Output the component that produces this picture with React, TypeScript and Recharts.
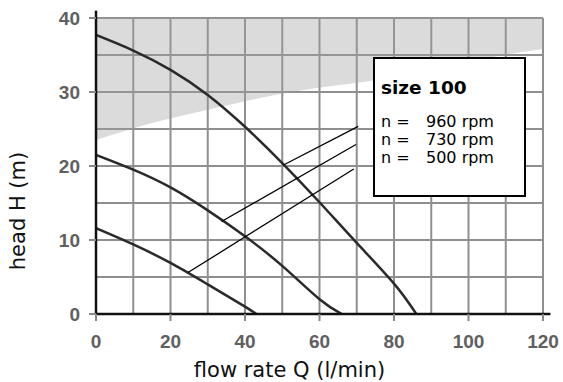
import React from 'react';
import { ComposedChart, Line, Area, XAxis, YAxis, CartesianGrid, ReferenceLine, Label } from 'recharts';

// pump curves
const q960 = [0, 10, 20, 30, 40, 50, 60, 70, 80, 86];
const h960 = [37.7, 35.6, 33.0, 29.6, 25.3, 20.4, 15.1, 9.6, 4.1, 0];
const q730 = [0, 10, 20, 30, 40, 50, 60, 66];
const h730 = [21.5, 19.5, 17.1, 14.0, 10.5, 6.5, 2.0, 0];
const q500 = [0, 10, 20, 30, 40, 43];
const h500 = [11.6, 9.4, 6.9, 4.0, 1.0, 0];

// grey zone (not allowed range), lower edge
const qShade = [0, 15, 30, 45, 60, 75, 90, 105, 120];
const hShadeLow = [23.5, 25.8, 27.6, 29.3, 30.6, 31.6, 33.0, 34.6, 35.8];

const xTicks = [0, 20, 40, 60, 80, 100, 120];
const yTicks = [0, 10, 20, 30, 40];
const xGrid = [10, 20, 30, 40, 50, 60, 70, 80, 90, 100, 110, 120];
const yGrid = [5, 10, 15, 20, 25, 30, 35, 40];

const speeds = [960, 730, 500];
const sizeLabel = 'size 100';

// leader lines from the box to each curve [x1, y1, x2, y2]
const leader960 = [70.4, 25.35, 50.2, 20.1];
const leader730 = [69.8, 22.9, 33.7, 12.5];
const leader500 = [69.2, 19.6, 24.7, 5.6];

const zip = (q: number[], h: number[]) => q.map((v, i) => ({ q: v, h: h[i] }));
const shadeData = qShade.map((v, i) => ({ q: v, range: [hShadeLow[i], 40] }));

const tickStyle = { fontSize: 19, fill: '#606060', fontWeight: 'bold', fontFamily: '"Liberation Sans", Arial, sans-serif' };
const font = '"DejaVu Sans", Verdana, sans-serif';

const XTitle = (props: any) => {
  const vb = props.viewBox;
  return (
    <text x={vb.x + vb.width / 2 - 30} y={vb.y + vb.height - 5} textAnchor="middle" fontSize={21} fontFamily={font} fill="#111">
      flow rate Q (l/min)
    </text>
  );
};

const YTitle = (props: any) => {
  const vb = props.viewBox;
  const cx = 25;
  const cy = vb.y + vb.height / 2 + 45;
  return (
    <text x={cx} y={cy} transform={`rotate(-90, ${cx}, ${cy})`} textAnchor="middle" fontSize={21} fontFamily={font} fill="#111">
      head H (m)
    </text>
  );
};

const seg = (l: number[]) => [{ x: l[0], y: l[1] }, { x: l[2], y: l[3] }];

export default function App() {
  return (
    <div style={{ position: 'absolute', left: 0, top: 0, width: 563, height: 382, background: '#fff' }}>
      <ComposedChart width={563} height={382} margin={{ top: 18, right: 20, bottom: 0, left: 0 }}>
        <CartesianGrid stroke="#8f8f8f" strokeWidth={2} horizontalValues={yGrid} verticalValues={xGrid} />
        <XAxis
          type="number"
          dataKey="q"
          domain={[0, 120]}
          ticks={xTicks}
          allowDataOverflow
          height={68}
          tickSize={7}
          tickMargin={14}
          tick={tickStyle}
          axisLine={{ stroke: '#111', strokeWidth: 2.5 }}
          tickLine={{ stroke: '#888', strokeWidth: 2 }}
        >
          <Label content={XTitle} />
        </XAxis>
        <YAxis
          type="number"
          domain={[0, 40]}
          ticks={yTicks}
          allowDataOverflow
          width={96}
          tickSize={7}
          tickMargin={9}
          tick={tickStyle}
          axisLine={{ stroke: '#111', strokeWidth: 2.5 }}
          tickLine={{ stroke: '#888', strokeWidth: 2 }}
        >
          <Label content={YTitle} />
        </YAxis>
        <Area
          data={shadeData}
          dataKey="range"
          type="monotone"
          stroke="none"
          fill="#a0a0a0"
          fillOpacity={0.38}
          isAnimationActive={false}
        />
        <Line data={zip(q960, h960)} dataKey="h" type="natural" stroke="#2a2a2a" strokeWidth={2.5} dot={false} isAnimationActive={false} />
        <Line data={zip(q730, h730)} dataKey="h" type="natural" stroke="#2a2a2a" strokeWidth={2.5} dot={false} isAnimationActive={false} />
        <Line data={zip(q500, h500)} dataKey="h" type="natural" stroke="#2a2a2a" strokeWidth={2.5} dot={false} isAnimationActive={false} />
        <ReferenceLine segment={seg(leader960)} stroke="#000" strokeWidth={1.3} />
        <ReferenceLine segment={seg(leader730)} stroke="#000" strokeWidth={1.3} />
        <ReferenceLine segment={seg(leader500)} stroke="#000" strokeWidth={1.3} />
        <ReferenceLine segment={[{ x: 0, y: 40 }, { x: 0, y: 41 }]} ifOverflow="visible" stroke="#111" strokeWidth={2.5} />
        <ReferenceLine segment={[{ x: 120, y: 0 }, { x: 122, y: 0 }]} ifOverflow="visible" stroke="#111" strokeWidth={2.5} />
      </ComposedChart>
      <div
        style={{
          position: 'absolute',
          left: 373,
          top: 57,
          width: 153,
          height: 140,
          boxSizing: 'border-box',
          border: '2px solid #000',
          background: '#fff',
          fontFamily: font,
          color: '#000',
        }}
      >
        <div style={{ position: 'absolute', left: 6, top: 17.6, fontSize: 18.5, lineHeight: '22px', fontWeight: 'bold', whiteSpace: 'nowrap' }}>
          {sizeLabel}
        </div>
        {speeds.map((s, i) => (
          <div
            key={s}
            style={{ position: 'absolute', left: 6, top: 53.7 + i * 18.3, fontSize: 16, lineHeight: '18px', whiteSpace: 'nowrap' }}
          >
            <span style={{ display: 'inline-block', width: 45 }}>n =</span>
            {s} rpm
          </div>
        ))}
      </div>
    </div>
  );
}
